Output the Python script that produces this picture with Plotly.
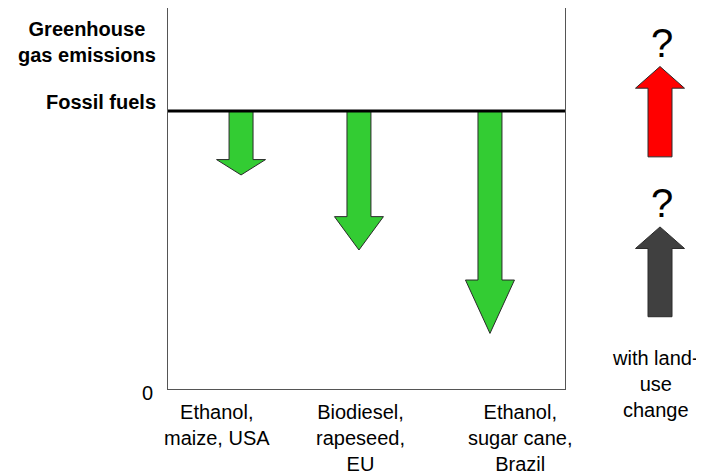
import plotly.graph_objects as go

# values relative to fossil fuels (= 100)
categories = ["Ethanol,<br>maize, USA", "Biodiesel,<br>rapeseed,<br>EU", "Ethanol,<br>sugar cane,<br>Brazil"]
fossil_level = 100
biofuel_levels = [77, 50, 20]

# schematic land-use change arrows (base -> tip)
land_use_bases = [83.5, 26]
land_use_tips = [116, 58.3]
land_use_colors = ["#ff0000", "#404040"]

# layout positions (x axis runs 0-100 across the box)
arrow_x = [18.4, 48.1, 81.1]
label_x = [12.3, 48.6, 88.9]
land_x = 60

FONT = "Liberation Sans, Arial, sans-serif"
W, H = 704, 475
OFF = 8  # page body margin


def arrow(cx, start, end, shaft, head):
    neck = end + 0.24 * (start - end)
    xs = [cx - shaft, cx + shaft, cx + shaft, cx + head, cx, cx - head, cx - shaft, cx - shaft]
    ys = [start, start, neck, neck, end, neck, neck, start]
    return xs, ys


fig = go.Figure()

for cx, lvl in zip(arrow_x, biofuel_levels):
    xs, ys = arrow(cx, fossil_level, lvl, 3.02, 6.17)
    fig.add_trace(go.Scatter(x=xs, y=ys, fill="toself", fillcolor="#33cc33", mode="lines",
                             line=dict(color="#2a2a2a", width=1), hoverinfo="skip"))

fig.add_trace(go.Scatter(x=[0, 100], y=[fossil_level, fossil_level], mode="lines",
                         line=dict(color="black", width=3), hoverinfo="skip", cliponaxis=False))

for b, t, c in zip(land_use_bases, land_use_tips, land_use_colors):
    xs, ys = arrow(land_x, b, t, 12, 24.5)
    fig.add_trace(go.Scatter(x=xs, y=ys, fill="toself", fillcolor=c, mode="lines",
                             line=dict(color="#2a2a2a", width=1), hoverinfo="skip",
                             xaxis="x2", yaxis="y"))

ann = []
ann.append(dict(text="<b>Greenhouse<br>gas emissions</b>", xref="paper", yref="y", x=(158 - OFF) / W, y=125,
                xanchor="right", yanchor="middle", showarrow=False, font=dict(size=20)))
ann.append(dict(text="<b>Fossil fuels</b>", xref="paper", yref="y", x=(158 - OFF) / W, y=fossil_level,
                xanchor="right", yanchor="middle", yshift=9, showarrow=False, font=dict(size=20)))
ann.append(dict(text="0", xref="paper", yref="y", x=(155 - OFF) / W, y=0,
                xanchor="right", yanchor="middle", yshift=-4, showarrow=False, font=dict(size=20)))
for lx, cat in zip(label_x, categories):
    ann.append(dict(text=cat, xref="x", yref="paper", x=lx, y=0, xanchor="center", yanchor="top",
                    yshift=-10, showarrow=False, font=dict(size=20)))
for t in land_use_tips:
    ann.append(dict(text="?", xref="x2", yref="y", x=land_x + 2, y=t, xanchor="center", yanchor="bottom",
                    yshift=0, showarrow=False, font=dict(size=40)))
ann.append(dict(text="with land-<br>use<br>change", xref="x2", yref="y", x=land_x - 5, y=16,
                xanchor="center", yanchor="top", showarrow=False, font=dict(size=20)))

fig.update_layout(
    width=W, height=H,
    margin=dict(l=0, r=0, t=0, b=H - (389 - OFF)),
    paper_bgcolor="white", plot_bgcolor="white",
    showlegend=False,
    font=dict(family=FONT, color="black"),
    xaxis=dict(domain=[(168 - OFF) / W, (565 - OFF) / W], range=[0, 100], showline=True, mirror=True,
               linecolor="#555", linewidth=1, showgrid=False, zeroline=False,
               showticklabels=False, ticks=""),
    yaxis=dict(range=[0, (389 - 8) / 2.78], showline=True, mirror=True, linecolor="#555", linewidth=1,
               showgrid=False, zeroline=False, showticklabels=False, ticks=""),
    xaxis2=dict(domain=[(600 - OFF) / W, (704 - OFF) / W], range=[0, 104], anchor="y", visible=False),
    annotations=ann,
)

fig.write_html("out.html")
